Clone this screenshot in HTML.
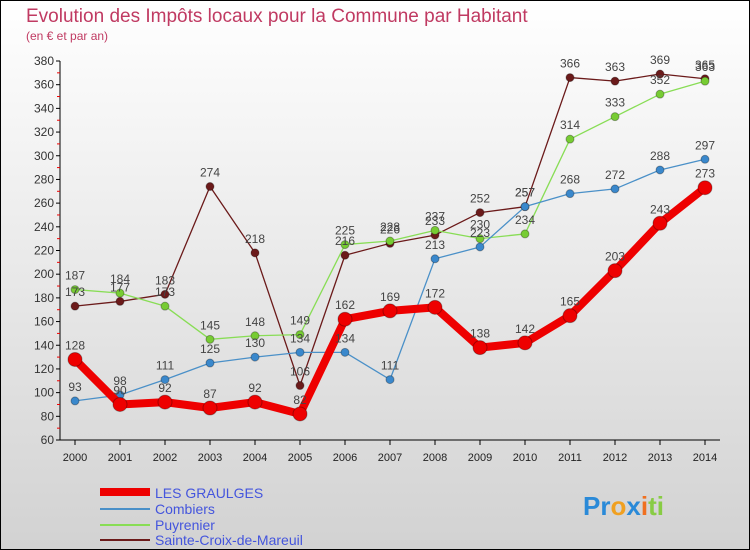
<!DOCTYPE html>
<html><head><meta charset="utf-8"><style>
body{margin:0}
#c{width:750px;height:550px;position:relative;overflow:hidden;font-family:"Liberation Sans",sans-serif}
</style></head><body>
<div id="c">
<svg id="s" width="750" height="550" xmlns="http://www.w3.org/2000/svg">
<defs><linearGradient id="bg" x1="0" y1="0" x2="0" y2="1"><stop offset="0" stop-color="#ffffff"/><stop offset="1" stop-color="#d2d2d2"/></linearGradient></defs>
<rect x="0.5" y="0.5" width="749" height="549" fill="url(#bg)" stroke="#000"/>
<text x="26" y="22" font-size="19" fill="#c03a62">Evolution des Impôts locaux pour la Commune par Habitant</text>
<text x="26" y="40" font-size="12" fill="#c03a62">(en € et par an)</text>
<g id="axes"></g><g id="series"></g><g id="labels"></g>
<g>
<line x1="100" y1="492" x2="150" y2="492" stroke="#ee0000" stroke-width="8"/>
<text x="155" y="498" font-size="14" fill="#4455dd">LES GRAULGES</text>
<line x1="100" y1="509" x2="150" y2="509" stroke="#4a90c8" stroke-width="2"/>
<text x="155" y="514" font-size="14" fill="#4455dd">Combiers</text>
<line x1="100" y1="525" x2="150" y2="525" stroke="#88dd55" stroke-width="2"/>
<text x="155" y="530" font-size="14" fill="#4455dd">Puyrenier</text>
<line x1="100" y1="540" x2="150" y2="540" stroke="#6b1a1a" stroke-width="2"/>
<text x="155" y="545" font-size="14" fill="#4455dd">Sainte-Croix-de-Mareuil</text>
</g>
<text x="583" y="515" font-size="26" font-weight="bold"><tspan fill="#2a8ad8">Pr</tspan><tspan fill="#f0a020">o</tspan><tspan fill="#2a8ad8">x</tspan><tspan fill="#f07020">i</tspan><tspan fill="#88cc44">ti</tspan></text>
</svg></div>
<script>
const years=[2000,2001,2002,2003,2004,2005,2006,2007,2008,2009,2010,2011,2012,2013,2014];
const graulges=[128,90,92,87,92,82,162,169,172,138,142,165,203,243,273];
const combiers=[93,98,111,125,130,134,134,111,213,223,257,268,272,288,297];
const puyrenier=[187,184,173,145,148,149,225,228,237,230,234,314,333,352,363];
const sainteCroix=[173,177,183,274,218,106,216,226,233,252,257,366,363,369,365];
const yTicks=[60,80,100,120,140,160,180,200,220,240,260,280,300,320,340,360,380];
const NS="http://www.w3.org/2000/svg";
const x=i=>75+i*45;
const y=v=>440-(v-60)*(379/320);
function mk(t,a,p){const e=document.createElementNS(NS,t);for(const k in a)e.setAttribute(k,a[k]);p.appendChild(e);return e;}
const ax=document.getElementById('axes');
let e=mk('line',{x1:60,y1:y(380),x2:60,y2:y(60),stroke:'#000'},ax);


e=mk('line',{x1:60,y1:440,x2:720,y2:440,stroke:'#000'},ax);


yTicks.forEach((t,i)=>{
 mk('line',{x1:56,y1:y(t),x2:60,y2:y(t),stroke:'#000'},ax);
 if(i<yTicks.length-1)mk('line',{x1:57,y1:y(t+10),x2:60,y2:y(t+10),stroke:'#e00'},ax);
 const l=mk('text',{x:54,y:y(t)+4,'font-size':12,'text-anchor':'end',fill:'#333'},ax);l.textContent=t;
 
 
});
years.forEach((yr,i)=>{
 mk('line',{x1:x(i),y1:440,x2:x(i),y2:445,stroke:'#000'},ax);
 const l=mk('text',{x:x(i),y:461,'font-size':11,'text-anchor':'middle',fill:'#222'},ax);l.textContent=yr;
 
 
});
const sg=document.getElementById('series'),lg=document.getElementById('labels');
function draw(d,col,w,r,name,dot){
 const p=mk('polyline',{points:d.map((v,i)=>x(i)+','+y(v)).join(' '),fill:'none',stroke:col,'stroke-width':w,'stroke-linejoin':'round'},sg);
 
 
 d.forEach((v,i)=>{
  const c=mk('circle',{cx:x(i),cy:y(v),r:r,fill:dot,stroke:'rgba(0,0,0,0.3)'},sg);
  
  
  const t=mk('text',{x:x(i),y:y(v)-10,'font-size':12,'text-anchor':'middle',fill:'#444'},lg);t.textContent=v;
  
  
 });
}
draw(sainteCroix,'#6b1a1a',1.3,4,'sainte-croix','#6b1a1a');
draw(puyrenier,'#88dd55',1.3,4,'puyrenier','#77cc33');
draw(combiers,'#4a90c8',1.3,4,'combiers','#3a88cc');
draw(graulges,'#ee0000',8,7,'les-graulges','#ee0000');
</script>
</body></html>
